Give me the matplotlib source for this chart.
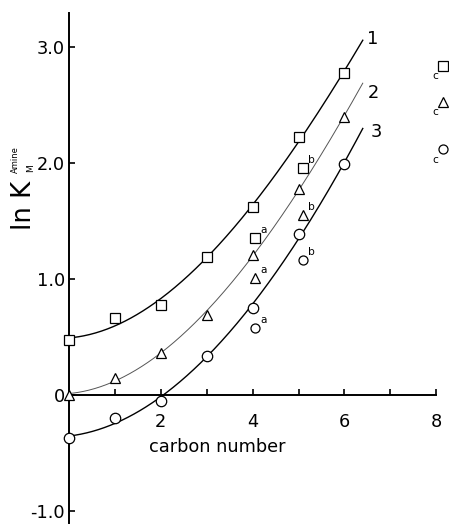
import numpy as np
import matplotlib
matplotlib.use("Agg")
import matplotlib.pyplot as plt
from matplotlib import font_manager

# carbon number of the alkyl chain
carbon = [0, 1, 2, 3, 4, 5, 6]

# ln K_M^Amine for the three series
series1 = [0.47, 0.66, 0.78, 1.19, 1.62, 2.22, 2.78]   # squares
series2 = [0.00, 0.15, 0.36, 0.69, 1.21, 1.78, 2.40]   # triangles
series3 = [-0.37, -0.20, -0.05, 0.34, 0.75, 1.39, 1.99]  # circles

# additional points marked a / b / c
extra_x = [4.05, 4.05, 4.05, 5.1, 5.1, 5.1, 8.15, 8.15, 8.15]
extra_y = [1.35, 1.01, 0.58, 1.96, 1.55, 1.16, 2.84, 2.53, 2.12]
extra_marker = ["s", "^", "o", "s", "^", "o", "s", "^", "o"]
extra_tag = ["a", "a", "a", "b", "b", "b", "c", "c", "c"]

curve_names = ["1", "2", "3"]
curve_end = 6.4

xticks = [2, 4, 6, 8]
yticks = [-1.0, 0, 1.0, 2.0, 3.0]
ytick_labels = ["-1.0", "0", "1.0", "2.0", "3.0"]

# a condensed face suits the lettering; fall back to DejaVu Sans
installed = {f.name for f in font_manager.fontManager.ttflist}
if "Liberation Sans Narrow" in installed:
    FAM, K = "Liberation Sans Narrow", 1.0
else:
    FAM, K = "DejaVu Sans", 0.85
plt.rcParams["font.family"] = [FAM, "DejaVu Sans"]

W, H = 449, 524
fig = plt.figure(figsize=(W / 100, H / 100), dpi=100)
fig.patch.set_facecolor("white")

# axes geometry in pixels
x0_px, xu = 69.0, 45.9
y0_px, yu = 395.0, 116.0
xlim = (-0.2, 8.2)
ylim = (-1.1, 3.4)
left = x0_px + xlim[0] * xu
bottom = (H - y0_px) + ylim[0] * yu
ax = fig.add_axes([left / W, bottom / H,
                   (xlim[1] - xlim[0]) * xu / W, (ylim[1] - ylim[0]) * yu / H])
ax.set_xlim(*xlim)
ax.set_ylim(*ylim)
ax.set_facecolor("none")

for s in ("top", "right"):
    ax.spines[s].set_visible(False)
ax.spines["left"].set_position(("data", 0))
ax.spines["bottom"].set_position(("data", 0))
ax.spines["left"].set_bounds(-1.1, 3.29)
ax.spines["bottom"].set_bounds(0, 8)
for s in ("left", "bottom"):
    ax.spines[s].set_linewidth(1.4)
    ax.spines[s].set_color("black")

tsize = 15 * K
ax.set_xticks(range(1, 9))
ax.set_xticklabels(["" if t not in xticks else str(t) for t in range(1, 9)],
                   fontsize=tsize)
ax.set_yticks(yticks)
ax.set_yticklabels(ytick_labels, fontsize=tsize)
ax.tick_params(axis="x", direction="in", length=4, width=1.2, pad=13)
ax.tick_params(axis="y", direction="in", length=4, width=1.2, pad=3)

ax.text(3.22, -0.45, "carbon number", ha="center", va="center", fontsize=tsize)

# fitted curves through each series
xs = np.linspace(0, curve_end, 300)
styles = [dict(color="black", lw=1.0), dict(color="#555555", lw=0.7),
          dict(color="black", lw=1.0)]
for ys, st in zip([series1, series2, series3], styles):
    coef = np.polyfit(carbon, ys, 3)
    ax.plot(xs, np.polyval(coef, xs), **st, zorder=2)

mk = dict(ms=7.5, mfc="white", mec="black", mew=0.9, ls="none", zorder=3,
          clip_on=False)
ax.plot(carbon, series1, marker="s", **mk)
ax.plot(carbon, series2, marker="^", **mk)
ax.plot(carbon, series3, marker="o", **mk)

# curve numbers at the upper ends
label_pos = [(6.62, 3.07), (6.64, 2.60), (6.7, 2.27)]
for name, (lx, ly) in zip(curve_names, label_pos):
    ax.text(lx, ly, name, fontsize=tsize, ha="center", va="center")

# extra points with their letters
for x, y, m, t in zip(extra_x, extra_y, extra_marker, extra_tag):
    ax.plot([x], [y], marker=m, ms=6.5, mfc="white", mec="black", mew=0.9,
            ls="none", zorder=3, clip_on=False)
    if t == "c":
        ax.text(x - 0.17, y - 0.09, t, fontsize=9 * K, ha="center", va="center")
    else:
        ax.text(x + 0.18, y + 0.07, t, fontsize=9 * K, ha="center", va="center")

# y-axis label: ln K with subscript M and superscript Amine
def fig_text(px, py, s, **kw):
    fig.text(px / W, 1 - py / H, s, rotation=90, ha="center", va="center", **kw)

fig_text(24, 205, "ln K", fontsize=22 * K)
fig_text(31, 168, "M", fontsize=6.5)
fig_text(15.5, 160, "Amine", fontsize=6)

fig.savefig("out.png", dpi=100)
